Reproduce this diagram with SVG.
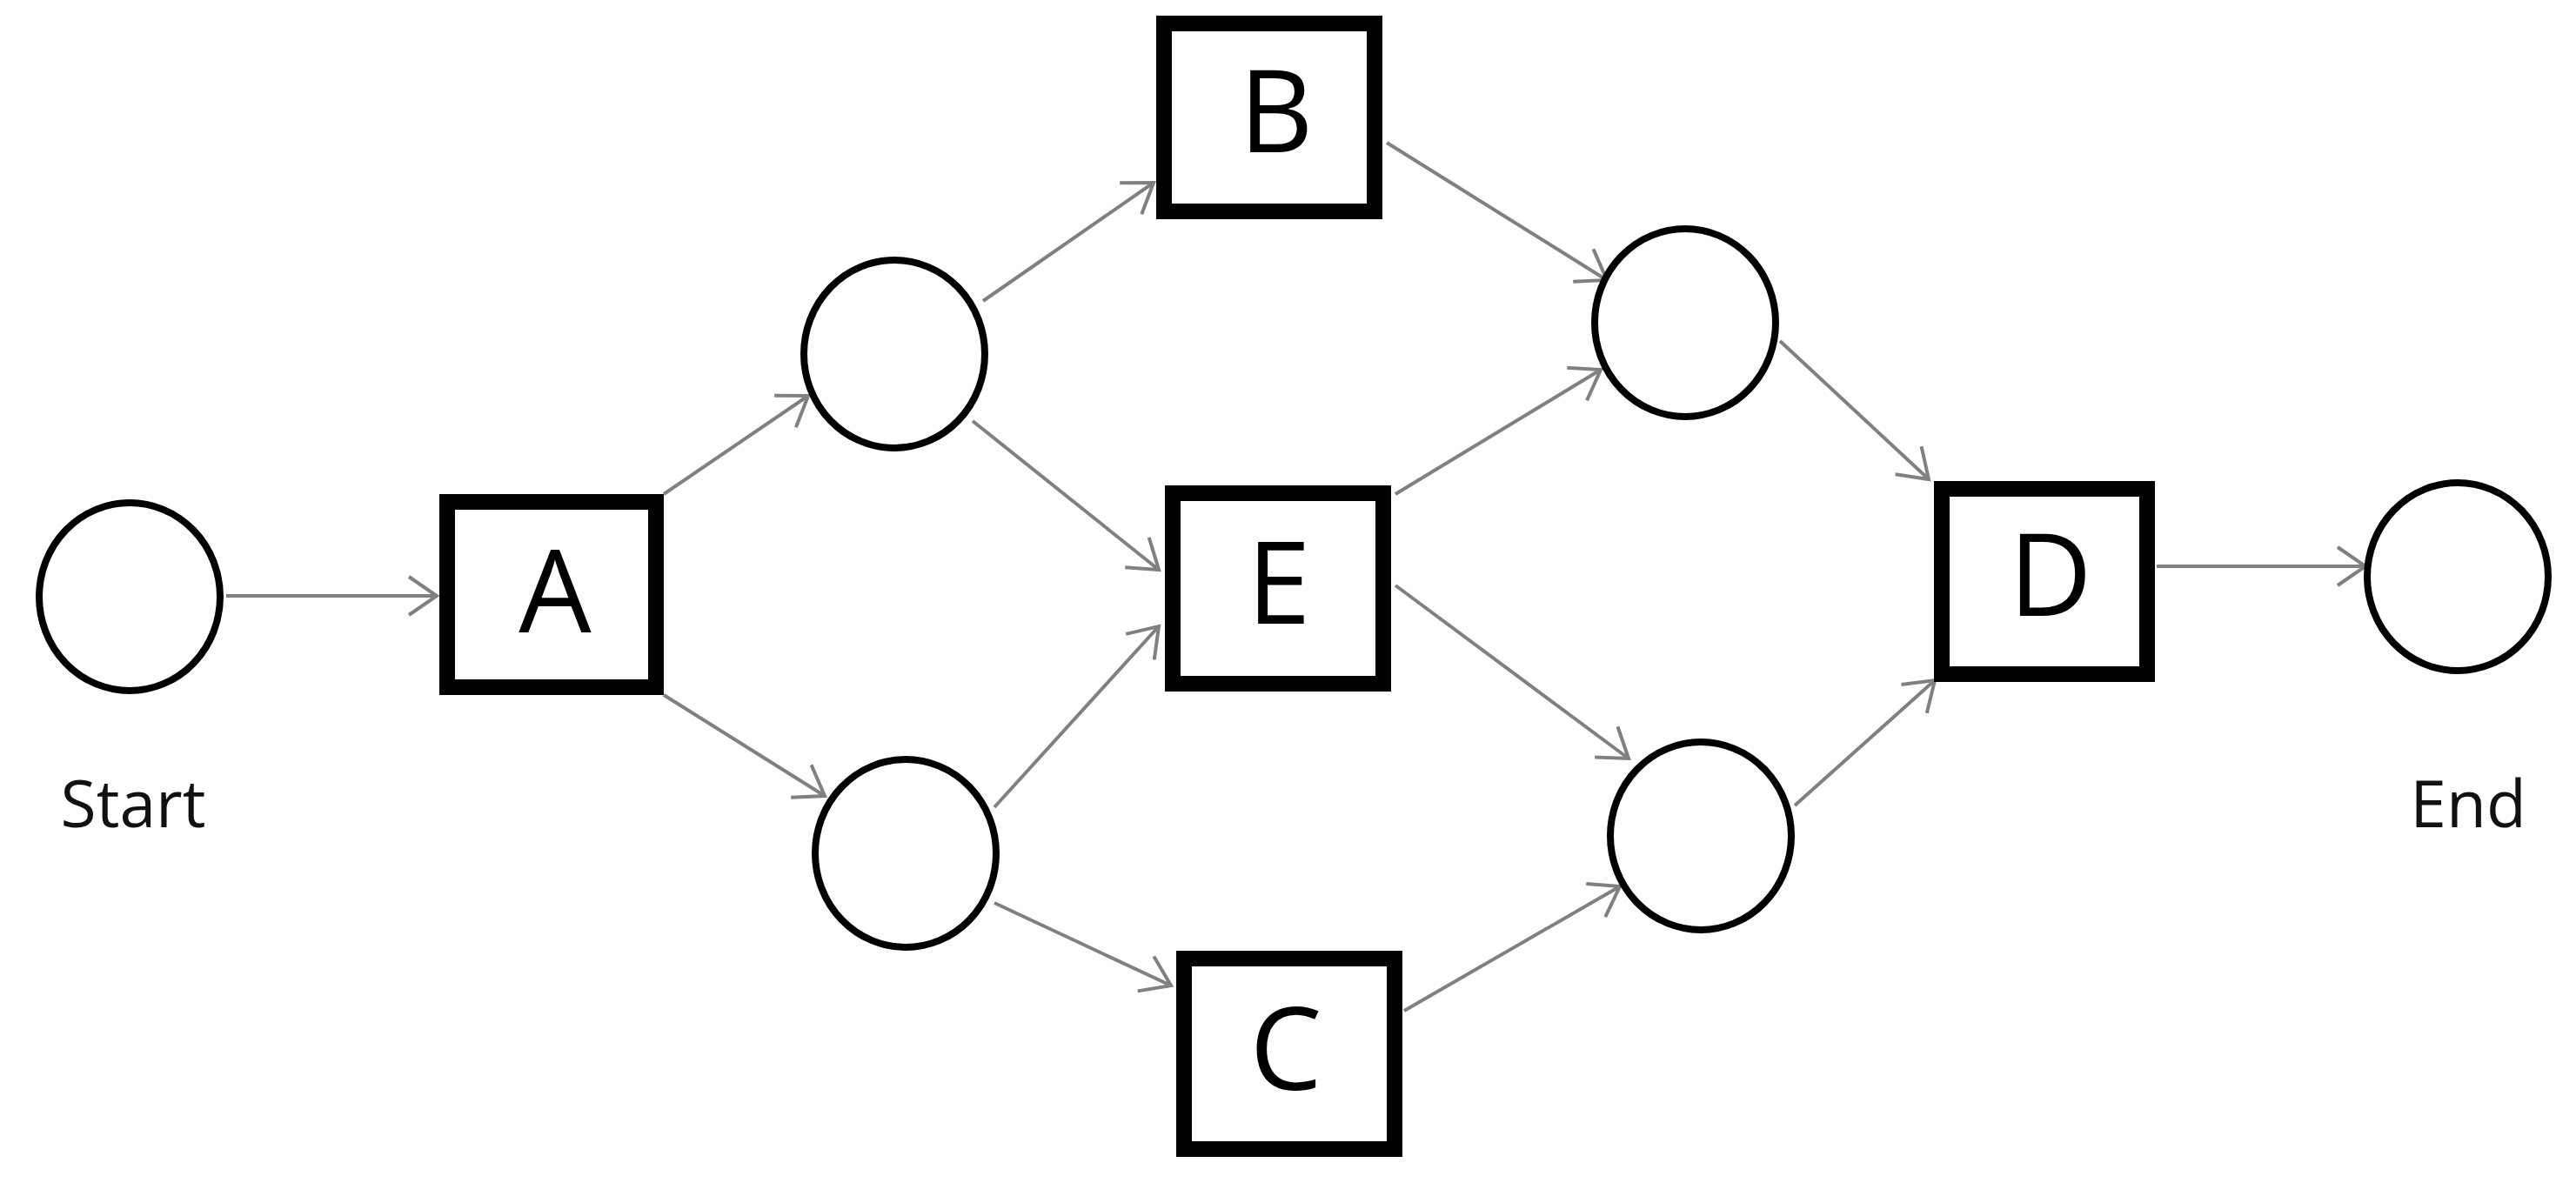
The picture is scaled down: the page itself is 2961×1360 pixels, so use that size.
<svg xmlns="http://www.w3.org/2000/svg" width="2961" height="1360" viewBox="0 0 2961 1360">
<style>
.ev{fill:#fff;stroke:#000;stroke-width:8}
.act{fill:#fff;stroke:#000;stroke-width:18}
.lbl{font-family:"Open Sans","Noto Sans",sans-serif;font-size:132px;fill:#000;text-anchor:middle}
.cap{font-family:"Open Sans","Noto Sans",sans-serif;font-size:75px;fill:#111;text-anchor:middle}
.edge{stroke:#808080;stroke-width:4;fill:none;marker-end:url(#arr)}
</style>
<defs>
<marker id="arr" markerUnits="userSpaceOnUse" markerWidth="40" markerHeight="52" refX="34" refY="24" orient="auto" overflow="visible">
<path d="M2,2 L34,24 L2,46" fill="none" stroke="#808080" stroke-width="4"/>
</marker>
</defs>
<rect width="2961" height="1360" fill="#fff"/>
<g id="connectors">
<line class="edge" x1="260" y1="685" x2="502" y2="685"/>
<line class="edge" x1="763" y1="568" x2="929" y2="455"/>
<line class="edge" x1="763" y1="799" x2="948" y2="915"/>
<line class="edge" x1="1130" y1="346" x2="1326" y2="210"/>
<line class="edge" x1="1118" y1="484" x2="1332" y2="655"/>
<line class="edge" x1="1143" y1="928" x2="1332" y2="720"/>
<line class="edge" x1="1143" y1="1038" x2="1346" y2="1133"/>
<line class="edge" x1="1594" y1="164" x2="1847" y2="322"/>
<line class="edge" x1="1604" y1="568" x2="1840" y2="425"/>
<line class="edge" x1="1604" y1="673" x2="1872" y2="872"/>
<line class="edge" x1="1614" y1="1162" x2="1862" y2="1019"/>
<line class="edge" x1="2046" y1="392" x2="2217" y2="551"/>
<line class="edge" x1="2063" y1="926" x2="2224" y2="782"/>
<line class="edge" x1="2479" y1="651" x2="2719" y2="651"/>
</g>
<g id="start"><ellipse class="ev" cx="149" cy="686" rx="104" ry="108"/><text class="cap" x="153" y="951">Start</text></g>
<g id="A"><rect class="act" x="514" y="577" width="240" height="213"/><text class="lbl" x="638" y="727">A</text></g>
<g id="n1"><ellipse class="ev" cx="1028" cy="407" rx="104" ry="108"/></g>
<g id="n2"><ellipse class="ev" cx="1041" cy="981" rx="104" ry="108"/></g>
<g id="B"><rect class="act" x="1338" y="27" width="242" height="216"/><text class="lbl" x="1467" y="175">B</text></g>
<g id="E"><rect class="act" x="1348" y="567" width="242" height="219"/><text class="lbl" x="1470" y="717">E</text></g>
<g id="C"><rect class="act" x="1361" y="1102" width="242" height="219"/><text class="lbl" x="1478" y="1253">C</text></g>
<g id="n3"><ellipse class="ev" cx="1937" cy="371" rx="104" ry="108"/></g>
<g id="n4"><ellipse class="ev" cx="1955" cy="961" rx="104" ry="108"/></g>
<g id="D"><rect class="act" x="2232" y="562" width="236" height="213"/><text class="lbl" x="2357" y="708">D</text></g>
<g id="end"><ellipse class="ev" cx="2825" cy="663" rx="104" ry="108"/><text class="cap" x="2837" y="951">End</text></g>
</svg>
